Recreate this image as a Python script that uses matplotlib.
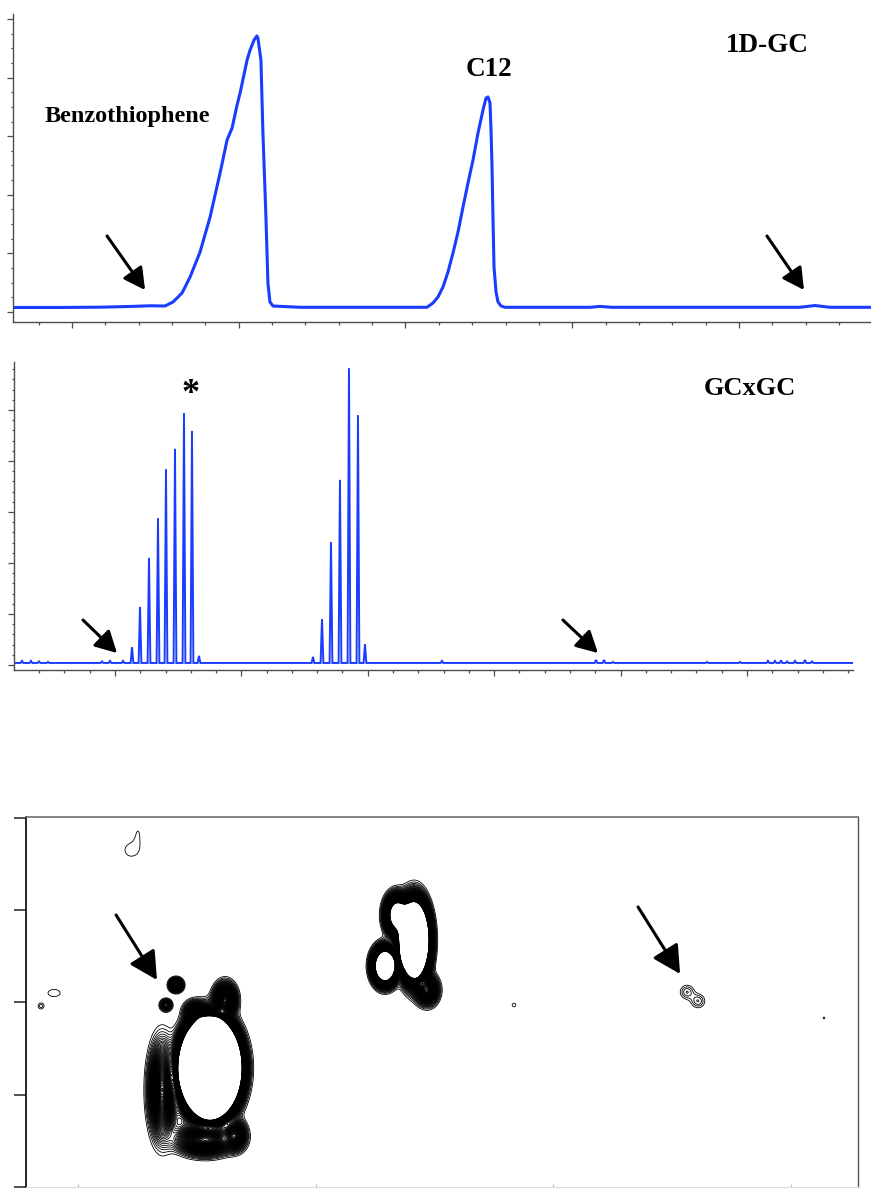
import numpy as np
import matplotlib
matplotlib.use("Agg")
import matplotlib.pyplot as plt
from matplotlib.ticker import MultipleLocator, NullFormatter

# ---------------- 1D-GC trace (retention time, detector response) ----------------
gc1d_time = [0.646, 0.928, 1.168, 1.348, 1.468, 1.558, 1.606, 1.660, 1.708, 1.768,
             1.828, 1.888, 1.930, 1.960, 1.990, 2.008, 2.050, 2.068, 2.092, 2.109,
             2.115, 2.133, 2.145, 2.163, 2.175, 2.187, 2.205, 2.367, 2.667, 2.967,
             3.129, 3.165, 3.195, 3.225, 3.255, 3.285, 3.315, 3.345, 3.375, 3.405,
             3.435, 3.465, 3.483, 3.495, 3.507, 3.513, 3.519, 3.525, 3.531, 3.543,
             3.555, 3.573, 3.597, 3.927, 4.106, 4.166, 4.238, 4.466, 4.766, 5.366,
             5.456, 5.546, 5.792]
gc1d_signal = [0.077, 0.077, 0.082, 0.094, 0.106, 0.102, 0.171, 0.324, 0.597, 1.024,
               1.621, 2.372, 2.935, 3.140, 3.532, 3.737, 4.300, 4.471, 4.642, 4.710,
               4.676, 4.300, 3.055, 1.621, 0.495, 0.171, 0.102, 0.080, 0.080, 0.080,
               0.080, 0.154, 0.256, 0.427, 0.683, 1.007, 1.365, 1.792, 2.201, 2.594,
               3.055, 3.447, 3.652, 3.669, 3.567, 3.106, 2.474, 1.570, 0.768, 0.341,
               0.171, 0.102, 0.080, 0.080, 0.080, 0.095, 0.080, 0.080, 0.080, 0.080,
               0.110, 0.080, 0.080]

# ---------------- GCxGC modulated trace ----------------
gcxgc_peak_time = [1.1345, 1.1978, 1.2690, 1.3402, 1.4035, 1.4747, 1.5459, 1.6092, 1.6646,
                   2.5665, 2.6377, 2.7089, 2.7801, 2.8513, 2.9225, 2.9778]
gcxgc_peak_height = [0.35, 1.14, 2.10, 2.88, 3.84, 4.24, 4.94, 4.59, 0.18,
                     0.16, 0.90, 2.41, 3.63, 5.82, 4.90, 0.41]
gcxgc_minor_time = [0.2642, 0.3354, 0.3987, 0.4699, 0.8972, 0.9604, 1.0633, 3.5870,
                    4.8054, 4.8687, 4.9399, 5.6835, 5.9446, 6.1661, 6.2215, 6.2690,
                    6.3165, 6.3797, 6.4589, 6.5142]
gcxgc_minor_height = [0.08, 0.08, 0.07, 0.06, 0.07, 0.08, 0.08, 0.08,
                      0.10, 0.10, 0.06, 0.06, 0.06, 0.08, 0.08, 0.09,
                      0.07, 0.08, 0.10, 0.07]
gcxgc_baseline = 0.04

# ---------------- GCxGC contour components ----------------
# first-dimension time, second-dimension time, amplitude, widths
spot_t1 = [1.5553, 1.6184, 1.4922, 1.5343, 1.6605, 1.3534,
           2.4135, 2.2916, 2.4682, 2.3420,
           1.4123, 1.3702,
           1.2230, 1.2524, 0.8990, 0.8443, 2.8342,
           3.5621, 3.6083, 4.1384]
spot_t2 = [1.2893, 2.0260, 1.8960, 0.5092, 0.5634, 1.0509,
           2.6761, 2.3944, 2.1343, 2.9469,
           2.1885, 1.9718,
           3.6511, 3.8462, 2.1018, 1.9610, 1.9718,
           2.1127, 2.0152, 1.8310]
spot_amp = [3000, 30, 15, 30, 20, 30,
            500, 150, 25, 80,
            20, 10,
            1.25, 0.9, 1.3, 1.8, 1.4,
            2.5, 2.5, 1.3]
spot_w1 = [0.0459, 0.0252, 0.0252, 0.0631, 0.0252, 0.0294,
           0.0282, 0.0252, 0.0252, 0.0252,
           0.0156, 0.0139,
           0.0379, 0.0168, 0.0349, 0.0114, 0.0093,
           0.0210, 0.0210, 0.0051]
spot_w2 = [0.1918, 0.0975, 0.0650, 0.0867, 0.0867, 0.2709,
           0.1842, 0.0975, 0.0867, 0.1083,
           0.0401, 0.0358,
           0.0975, 0.1083, 0.0531, 0.0293, 0.0238,
           0.0542, 0.0542, 0.0130]
contour_levels = np.arange(1.0, 40.5, 0.5)

BLUE = "#1a3cff"
SPINE = "#4d4d4d"
LABEL_FONT = dict(family=["Liberation Serif", "DejaVu Serif"], weight="bold")

W, H = 871, 1189
fig = plt.figure(figsize=(W / 100, H / 100), dpi=100)


def frac(left, top, right, bottom):
    return [left / W, 1 - bottom / H, (right - left) / W, (bottom - top) / H]


def arrow(ax, start, end, hl=0.65, hw=0.35):
    ax.annotate("", xy=end, xytext=start,
                arrowprops=dict(arrowstyle=f"-|>,head_length={hl},head_width={hw}",
                                mutation_scale=20, lw=2.2, color="black",
                                shrinkA=0, shrinkB=0))


def trace_style(ax):
    for side in ("top", "right"):
        ax.spines[side].set_visible(False)
    for side in ("left", "bottom"):
        ax.spines[side].set_color(SPINE)
        ax.spines[side].set_linewidth(1.0)
    ax.tick_params(which="both", direction="out", colors=SPINE, width=0.9)
    ax.tick_params(which="major", length=4)
    ax.tick_params(which="minor", length=1.8)
    ax.xaxis.set_major_formatter(NullFormatter())
    ax.yaxis.set_major_formatter(NullFormatter())


# ---------------- top: 1D-GC ----------------
ax1 = fig.add_axes(frac(13, 14, 871, 322))
ax1.plot(gc1d_time, gc1d_signal, color=BLUE, lw=2.2, solid_joinstyle="round")
ax1.set_xlim(0.646, 5.792)
ax1.set_ylim(-0.171, 5.085)
ax1.xaxis.set_major_locator(MultipleLocator(1))
ax1.xaxis.set_minor_locator(MultipleLocator(0.2))
ax1.yaxis.set_major_locator(MultipleLocator(1))
ax1.yaxis.set_minor_locator(MultipleLocator(0.25))
trace_style(ax1)
ax1.text(1.330, 3.328, "Benzothiophene", fontsize=17.5, ha="center", va="center", **LABEL_FONT)
ax1.text(3.501, 4.130, "C12", fontsize=19.5, ha="center", va="center", **LABEL_FONT)
ax1.text(5.168, 4.539, "1D-GC", fontsize=19.5, ha="center", va="center", **LABEL_FONT)
arrow(ax1, (1.210, 1.297), (1.438, 0.375))
arrow(ax1, (5.168, 1.297), (5.390, 0.375))

# ---------------- middle: GCxGC modulated signal ----------------
ax2 = fig.add_axes(frac(14, 362, 853, 670))
x0, x1 = 0.201, 6.839
half = 0.011
events = sorted(zip(gcxgc_peak_time + gcxgc_minor_time,
                    gcxgc_peak_height + gcxgc_minor_height))
tx, ty = [x0], [gcxgc_baseline]
for t, h in events:
    tx += [t - half, t, t + half]
    ty += [gcxgc_baseline, h, gcxgc_baseline]
tx.append(x1)
ty.append(gcxgc_baseline)
ax2.plot(tx, ty, color=BLUE, lw=1.4, solid_joinstyle="miter")
ax2.set_xlim(x0, x1)
ax2.set_ylim(-0.098, 5.941)
ax2.xaxis.set_major_locator(MultipleLocator(1))
ax2.xaxis.set_minor_locator(MultipleLocator(0.2))
ax2.yaxis.set_major_locator(MultipleLocator(1))
ax2.yaxis.set_minor_locator(MultipleLocator(0.2))
trace_style(ax2)
ax2.text(1.601, 5.30, "*", fontsize=26, ha="center", va="center", **LABEL_FONT)
ax2.text(6.024, 5.431, "GCxGC", fontsize=19, ha="center", va="center", **LABEL_FONT)
arrow(ax2, (0.747, 0.882), (1.016, 0.235))
arrow(ax2, (4.544, 0.882), (4.821, 0.235))

# ---------------- bottom: GCxGC contour plot ----------------
ax3 = fig.add_axes(frac(26, 817, 858, 1187))
xlo, xhi, ylo, yhi = 0.781, 4.2815, 0.0, 4.0087
gx = np.linspace(xlo, xhi, 1700)
gy = np.linspace(ylo, yhi, 760)
X, Y = np.meshgrid(gx, gy)
Z = np.zeros_like(X)
for c1, c2, a, w1, w2 in zip(spot_t1, spot_t2, spot_amp, spot_w1, spot_w2):
    Z += a * np.exp(-0.5 * (((X - c1) / w1) ** 2 + ((Y - c2) / w2) ** 2))
ax3.contour(X, Y, Z, levels=contour_levels, colors="black", linewidths=0.6)
ax3.set_xlim(xlo, xhi)
ax3.set_ylim(ylo, yhi)
ax3.xaxis.set_major_locator(MultipleLocator(1))
ax3.yaxis.set_major_locator(MultipleLocator(1))
ax3.xaxis.set_major_formatter(NullFormatter())
ax3.yaxis.set_major_formatter(NullFormatter())
ax3.spines["left"].set_color("black")
ax3.spines["left"].set_linewidth(1.2)
ax3.spines["top"].set_color("#707070")
ax3.spines["top"].set_linewidth(1.2)
ax3.spines["right"].set_color("#555555")
ax3.spines["right"].set_linewidth(1.0)
ax3.spines["bottom"].set_color("#dddddd")
ax3.spines["bottom"].set_linewidth(0.8)
ax3.tick_params(axis="y", direction="out", length=8.5, width=1.1, colors="#222222")
ax3.tick_params(axis="x", direction="in", length=2, width=0.8, colors="#bbbbbb")
arrow(ax3, (1.160, 2.947), (1.332, 2.243), hl=0.85, hw=0.45)
arrow(ax3, (3.356, 3.034), (3.533, 2.308), hl=0.85, hw=0.45)

fig.savefig("out.png", dpi=100)
